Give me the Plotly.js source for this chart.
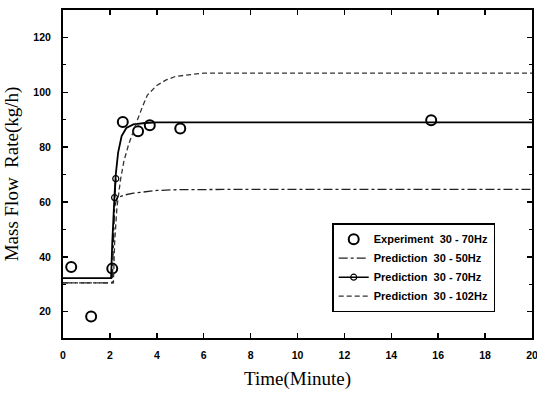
<!DOCTYPE html>
<html>
<head>
<meta charset="utf-8">
<script src="https://cdn.plot.ly/plotly-3.0.1.min.js"></script>
<style>html,body{margin:0;padding:0;background:#fff;}#chart{width:537px;height:393px;}</style>
</head>
<body>
<div id="chart"></div>
<script>
// Experiment 30 - 70Hz
var expX = [0.35, 1.2, 2.1, 2.55, 3.2, 3.7, 5.0, 15.7];
var expY = [36.3, 18.2, 35.7, 89.2, 85.8, 88.0, 86.8, 89.8];

// Prediction 30 - 50Hz
var p50X = [0, 2.1, 2.15, 2.2, 2.3, 2.6, 3.0, 3.5, 4.0, 5.0, 6.0, 8.0, 10, 12, 14, 16, 18, 20];
var p50Y = [30.5, 30.5, 45, 58, 61.5, 62.5, 63.2, 63.8, 64.2, 64.5, 64.6, 64.6, 64.6, 64.6, 64.6, 64.6, 64.6, 64.6];

// Prediction 30 - 70Hz
var p70X = [0, 2.05, 2.1, 2.15, 2.2, 2.25, 2.35, 2.5, 2.7, 3.0, 3.5, 4.0, 6.0, 8.0, 10, 12, 14, 16, 18, 20];
var p70Y = [32.2, 32.2, 45, 56, 63, 70, 78, 84, 87, 88.3, 88.8, 89, 89, 89, 89, 89, 89, 89, 89, 89];
var p70MarkX = [2.2, 2.25];
var p70MarkY = [61.6, 68.5];

// Prediction 30 - 102Hz
var p102X = [0, 2.15, 2.2, 2.3, 2.45, 2.6, 2.8, 3.0, 3.2, 3.4, 3.6, 4.0, 4.4, 4.8, 5.5, 6.0, 8.0, 10, 12, 14, 16, 18, 20];
var p102Y = [30.5, 30.5, 45, 58, 68, 75, 81, 86, 90.5, 95, 99, 102.5, 104.5, 105.8, 106.6, 107, 107, 107, 107, 107, 107, 107, 107];

var xTicks = [0, 2, 4, 6, 8, 10, 12, 14, 16, 18, 20];
var yTicks = [20, 40, 60, 80, 100, 120];

var names = ['Experiment\u00a0\u00a030 - 70Hz', 'Prediction\u00a0\u00a030 - 50Hz', 'Prediction\u00a0\u00a030 - 70Hz', 'Prediction\u00a0\u00a030 - 102Hz'];

var traces = [
  {x: expX, y: expY, mode: 'markers', name: names[0],
   marker: {symbol: 'circle-open', size: 10, color: '#000', line: {width: 2, color: '#000'}}},
  {x: p50X, y: p50Y, mode: 'lines', name: names[1],
   line: {color: '#222', width: 1.3, dash: 'dashdot'}},
  {x: p70X, y: p70Y, mode: 'lines', name: names[2], showlegend: false, legendgroup: 'p70',
   line: {color: '#000', width: 1.8}},
  {x: p70MarkX, y: p70MarkY, mode: 'lines+markers', name: names[2], legendgroup: 'p70',
   line: {color: '#000', width: 1.5},
   marker: {symbol: 'circle-open', size: 6, color: '#000', line: {width: 1.2, color: '#000'}}},
  {x: p102X, y: p102Y, mode: 'lines', name: names[3],
   line: {color: '#333', width: 1.3, dash: '5px,3px'}}
];

var axisCommon = {
  showline: true, linecolor: '#000', linewidth: 2, mirror: 'ticks',
  ticks: 'inside', ticklen: 5, tickwidth: 1.5, tickcolor: '#000',
  showgrid: false, zeroline: false, ticklabeloverflow: 'allow',
  tickfont: {family: 'Liberation Sans, Arial, sans-serif', size: 10.5, color: '#000', weight: 'bold'}
};

var layout = {
  width: 537, height: 393,
  margin: {l: 63, r: 5, t: 10, b: 55},
  paper_bgcolor: '#fff', plot_bgcolor: '#fff',
  showlegend: true,
  legend: {
    x: 0.574, y: 0.35, xanchor: 'left', yanchor: 'top',
    bordercolor: '#000', borderwidth: 1.5, bgcolor: '#fff',
    font: {family: 'Liberation Sans, Arial, sans-serif', size: 11, color: '#000', weight: 'bold'},
    traceorder: 'normal'
  },
  xaxis: Object.assign({}, axisCommon, {
    range: [0, 20], tickvals: xTicks, ticktext: xTicks.map(String),
    ticklabelstandoff: 6,
    title: {text: 'Time(Minute)', font: {family: 'Liberation Serif, Times New Roman, serif', size: 19, color: '#000'}, standoff: 12}
  }),
  yaxis: Object.assign({}, axisCommon, {
    range: [10.4, 130], tickvals: yTicks, ticktext: yTicks.map(String),
    ticklabelstandoff: 8,
    minor: {dtick: 10, ticks: 'inside', ticklen: 3, tickcolor: '#000', tickwidth: 1},
    title: {text: 'Mass\u00a0Flow\u00a0\u00a0Rate(kg/h)', font: {family: 'Liberation Serif, Times New Roman, serif', size: 19, color: '#000'}, standoff: 10}
  })
};

Plotly.newPlot('chart', traces, layout, {displayModeBar: false, staticPlot: true});
</script>
</body>
</html>
